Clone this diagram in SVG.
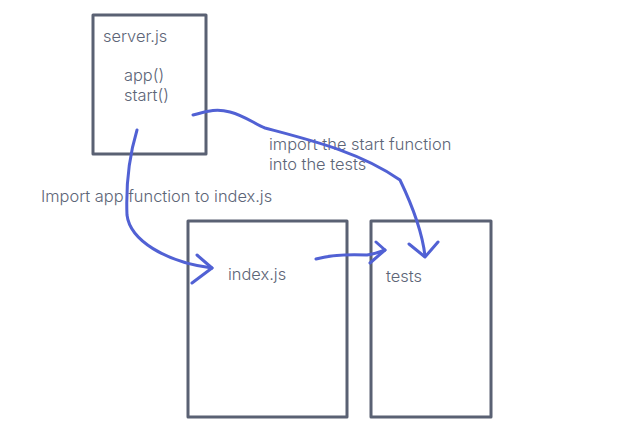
<svg xmlns="http://www.w3.org/2000/svg" width="635" height="444" viewBox="0 0 635 444">
<style>
.box{fill:none;stroke:#5a6173;stroke-width:3;stroke-linejoin:round}
.t{font-family:Inter,"Liberation Sans",sans-serif;font-size:16.4px;font-weight:300;fill:#5d6577}
.c{fill:none;stroke:#5161d4;stroke-width:3;stroke-linecap:round;stroke-linejoin:round}
</style>
<rect width="635" height="444" fill="#ffffff"/>
<g id="server">
<rect class="box" x="93" y="15" width="113" height="139"/>
<text class="t" x="103" y="42">server.js</text>
<text class="t" x="124" y="81">app()</text>
<text class="t" x="124" y="101">start()</text>
</g>
<g id="index">
<rect class="box" x="188" y="221" width="159" height="196"/>
<text class="t" x="228" y="280">index.js</text>
</g>
<g id="tests">
<rect class="box" x="371" y="221" width="120" height="196"/>
<text class="t" x="386" y="282">tests</text>
</g>
<g id="labels">
<text class="t" x="41" y="202">Import app function to index.js</text>
<text class="t" x="269" y="150">import the start function</text>
<text class="t" x="269" y="170">into the tests</text>
</g>
<g id="connectors">
<path class="c" d="M137,130 C128,160 126,190 127,215 C130,240 165,262 212,268"/>
<path class="c" d="M197,255 L212,268 L192,283"/>
<path class="c" d="M193,115 C205,112 215,108 230,112 C245,116 255,124 265,128 C310,140 360,152 400,180 C412,205 422,230 425,256"/>
<path class="c" d="M409,244 L425,257 L438,242"/>
<path class="c" d="M316,259 C330,255 345,254 367,255 C375,254 380,252 385,250"/>
<path class="c" d="M376,242 L385,250 L370,263"/>
</g>
</svg>
